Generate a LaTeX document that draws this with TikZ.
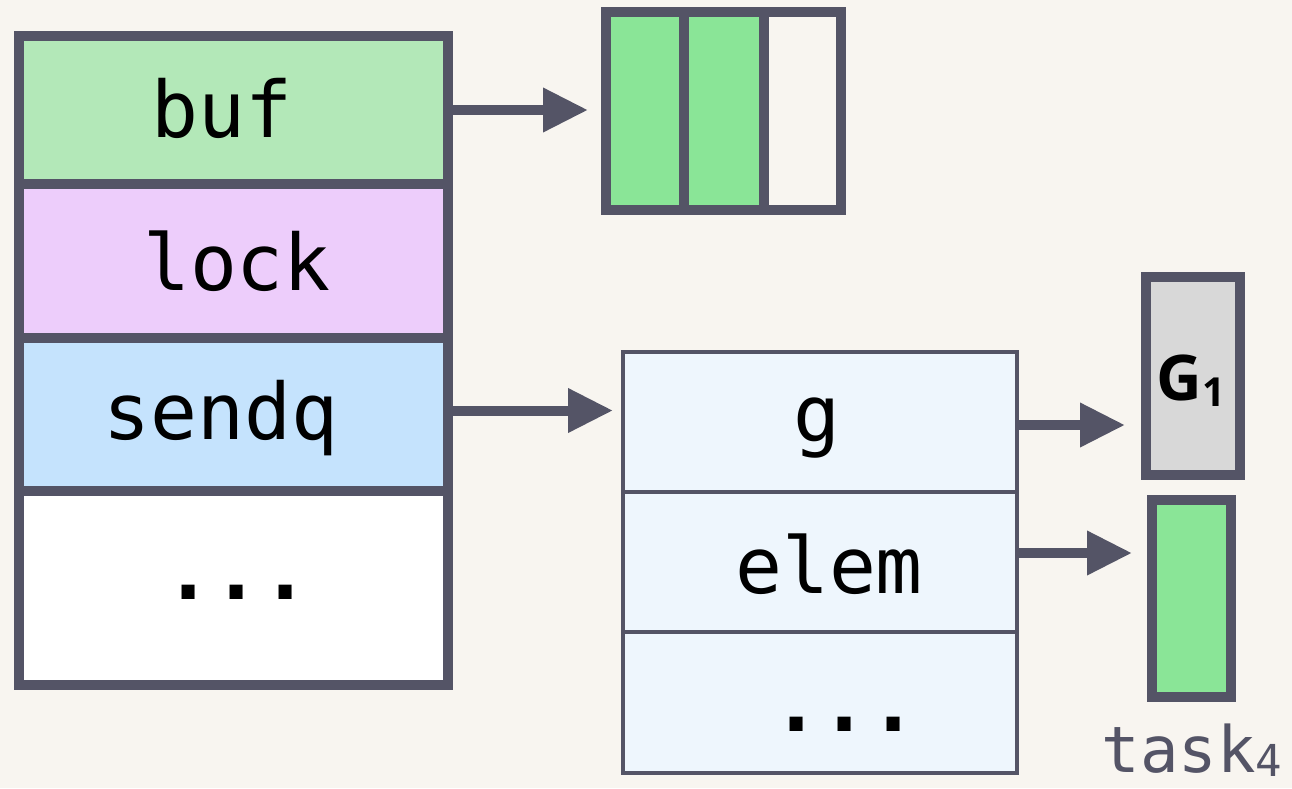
\documentclass[tikz,border=0pt]{standalone}
\usepackage{fontspec}
\setmonofont{DejaVu Sans Mono}
\newfontfamily\gfont{Open Sans}
\usetikzlibrary{arrows.meta,calc}
\definecolor{bg}{HTML}{F8F5F0}
\definecolor{ink}{HTML}{545466}
\definecolor{bufc}{HTML}{B3E8B8}
\definecolor{lockc}{HTML}{EDCDFB}
\definecolor{sendc}{HTML}{C5E3FD}
\definecolor{cellg}{HTML}{8AE597}
\definecolor{sgc}{HTML}{EEF6FD}
\definecolor{gc}{HTML}{D8D8D8}
\tikzset{
  fld/.style={draw=ink, line width=10pt, inner sep=0pt},
  sgfld/.style={draw=ink, fill=sgc, line width=4pt, inner sep=0pt, minimum width=394pt},
  lbl/.style={font=\fontsize{78}{80}\selectfont\ttfamily},
  dots/.style={font=\fontsize{80}{82}\selectfont\ttfamily\bfseries},
  arr/.style={draw=ink, line width=10pt, -{Triangle[length=45pt,width=42pt]}},
}
\begin{document}
\begin{tikzpicture}[x=1pt,y=-1pt]
\fill[bg] (0,0) rectangle (1292,788);
\useasboundingbox (0,0) rectangle (1292,788);
% left struct
\node[fld, fill=bufc, minimum width=429pt, minimum height=148pt] (buf) at (233.5,110) {};
\node[fld, fill=lockc, minimum width=429pt, minimum height=154pt] (lock) at (233.5,261) {};
\node[fld, fill=sendc, minimum width=429pt, minimum height=153pt] (sendq) at (233.5,414.5) {};
\node[fld, fill=white, minimum width=429pt, minimum height=194pt] (rest) at (233.5,588) {};
\node[lbl] (tbuf) at (222,108) {buf};
\node[lbl] (tlock) at (237,261) {lock};
\node[lbl] (tsend) at (221,418) {sendq};
\node[dots] (trest) at (237,592) {...};
% buffer
\node[fld, fill=cellg, minimum width=78pt, minimum height=198pt] (b1) at (645,111) {};
\node[fld, fill=cellg, minimum width=80pt, minimum height=198pt] (b2) at (724,111) {};
\node[fld, fill=bg, minimum width=77pt, minimum height=198pt] (b3) at (802.5,111) {};
% sudog
\node[sgfld, minimum height=140pt] (sg) at (820,422) {};
\node[sgfld, minimum height=140pt] (sgelem) at (820,562) {};
\node[sgfld, minimum height=141pt] (sgrest) at (820,702.5) {};
\node[lbl] (tg) at (817,428) {g};
\node[lbl] (telem) at (829,564) {elem};
\node[dots] (tsgrest) at (845,724) {...};
% G1 and task
\node[fld, fill=gc, minimum width=94pt, minimum height=198pt] (G) at (1193,376) {};
\node[font=\fontsize{63}{65}\selectfont\gfont\bfseries] (tG) at (1191,381) {G\raisebox{-6pt}{\fontsize{40}{42}\selectfont 1}};
\node[fld, fill=cellg, minimum width=79pt, minimum height=197pt] (task) at (1191.5,598.5) {};
\node[text=ink, font=\fontsize{64}{66}\selectfont\ttfamily, anchor=base] (ttask) at (1192,772) {task\raisebox{-4pt}{\fontsize{44}{46}\selectfont 4}};
% arrows
\draw[arr, shorten >=13pt] (buf.east) -- (buf.east -| b1.west);
\draw[arr, shorten >=8pt] ([yshift=4pt]sendq.east) -- ([yshift=4pt]sendq.east -| sg.west);
\draw[arr, shorten >=16pt] ([yshift=-3pt]sg.east) -- ([yshift=-3pt]sg.east -| G.west);
\draw[arr, shorten >=15pt] ([yshift=9pt]sgelem.east) -- ([yshift=9pt]sgelem.east -| task.west);
\end{tikzpicture}
\end{document}
